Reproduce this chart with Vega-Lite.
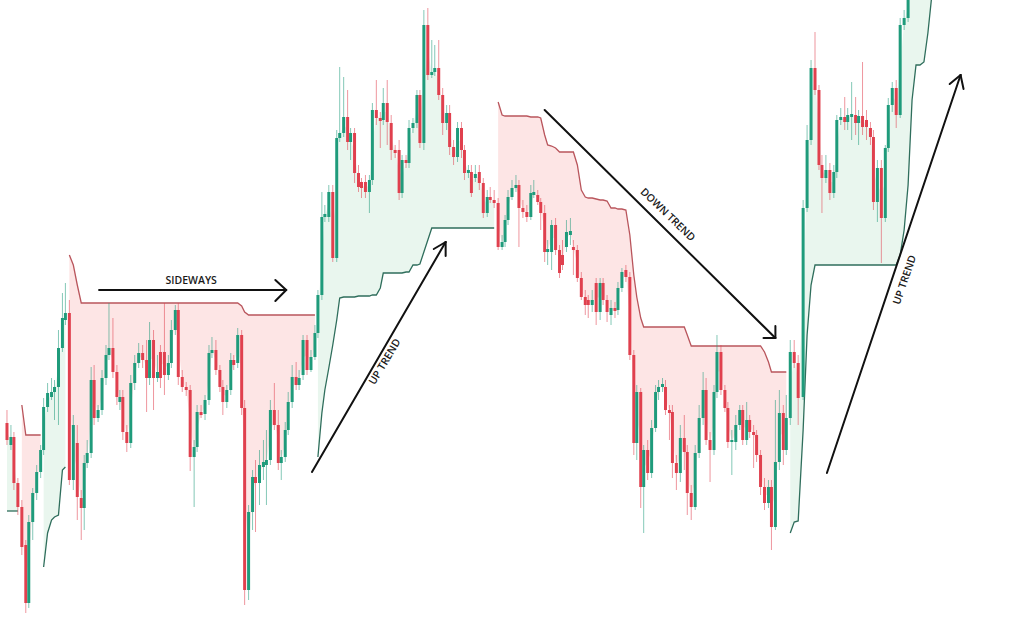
{
  "$schema": "https://vega.github.io/schema/vega-lite/v6.json",
  "width": 1024,
  "height": 621,
  "padding": 0,
  "autosize": {"type": "fit", "contains": "padding"},
  "background": "white",
  "config": {"view": {"stroke": null}},
  "datasets": {
    "candles": [
      {"t":2,"o":423,"h":410,"l":445,"c":440,"st":511,"dir":"up","seg":0},
      {"t":6,"o":445,"h":425,"l":450,"c":437,"st":511,"dir":"up","seg":0},
      {"t":9,"o":437,"h":432,"l":490,"c":483,"st":511,"dir":"up","seg":0},
      {"t":13,"o":483,"h":478,"l":515,"c":507,"st":511,"dir":"up","seg":0},
      {"t":17,"o":507,"h":500,"l":555,"c":547,"st":405,"dir":"down","seg":1},
      {"t":21,"o":545,"h":540,"l":613,"c":603,"st":435,"dir":"down","seg":1},
      {"t":24,"o":603,"h":515,"l":608,"c":522,"st":435,"dir":"down","seg":1},
      {"t":28,"o":522,"h":488,"l":540,"c":493,"st":435,"dir":"down","seg":1},
      {"t":32,"o":493,"h":465,"l":500,"c":472,"st":435,"dir":"down","seg":1},
      {"t":36,"o":472,"h":445,"l":478,"c":450,"st":435,"dir":"down","seg":1},
      {"t":39,"o":450,"h":398,"l":455,"c":407,"st":567,"dir":"up","seg":2},
      {"t":43,"o":407,"h":383,"l":412,"c":393,"st":533,"dir":"up","seg":2},
      {"t":47,"o":397,"h":378,"l":400,"c":392,"st":520,"dir":"up","seg":2},
      {"t":50,"o":392,"h":380,"l":420,"c":387,"st":517,"dir":"up","seg":2},
      {"t":54,"o":387,"h":330,"l":425,"c":348,"st":515,"dir":"up","seg":2},
      {"t":58,"o":348,"h":293,"l":352,"c":318,"st":470,"dir":"up","seg":2},
      {"t":61,"o":320,"h":283,"l":325,"c":313,"st":467,"dir":"up","seg":2},
      {"t":65,"o":313,"h":300,"l":485,"c":480,"st":255,"dir":"down","seg":3},
      {"t":69,"o":480,"h":415,"l":490,"c":425,"st":265,"dir":"down","seg":3},
      {"t":73,"o":443,"h":425,"l":520,"c":497,"st":285,"dir":"down","seg":3},
      {"t":77,"o":498,"h":490,"l":540,"c":508,"st":303,"dir":"down","seg":3},
      {"t":80,"o":508,"h":455,"l":530,"c":463,"st":303,"dir":"down","seg":3},
      {"t":83,"o":463,"h":440,"l":468,"c":453,"st":303,"dir":"down","seg":3},
      {"t":87,"o":453,"h":367,"l":458,"c":380,"st":303,"dir":"down","seg":3},
      {"t":90,"o":380,"h":365,"l":425,"c":418,"st":303,"dir":"down","seg":3},
      {"t":94,"o":418,"h":405,"l":422,"c":410,"st":303,"dir":"down","seg":3},
      {"t":98,"o":410,"h":370,"l":415,"c":378,"st":303,"dir":"down","seg":3},
      {"t":102,"o":378,"h":345,"l":385,"c":355,"st":303,"dir":"down","seg":3},
      {"t":105,"o":355,"h":303,"l":360,"c":348,"st":303,"dir":"down","seg":3},
      {"t":109,"o":348,"h":318,"l":378,"c":372,"st":303,"dir":"down","seg":3},
      {"t":113,"o":372,"h":365,"l":405,"c":397,"st":303,"dir":"down","seg":3},
      {"t":116,"o":402,"h":390,"l":410,"c":397,"st":303,"dir":"down","seg":3},
      {"t":119,"o":397,"h":390,"l":440,"c":432,"st":303,"dir":"down","seg":3},
      {"t":123,"o":432,"h":425,"l":452,"c":443,"st":303,"dir":"down","seg":3},
      {"t":127,"o":443,"h":375,"l":448,"c":383,"st":303,"dir":"down","seg":3},
      {"t":131,"o":383,"h":355,"l":390,"c":363,"st":303,"dir":"down","seg":3},
      {"t":135,"o":363,"h":343,"l":368,"c":353,"st":303,"dir":"down","seg":3},
      {"t":139,"o":353,"h":345,"l":368,"c":360,"st":303,"dir":"down","seg":3},
      {"t":143,"o":360,"h":340,"l":412,"c":378,"st":303,"dir":"down","seg":3},
      {"t":146,"o":378,"h":322,"l":385,"c":340,"st":303,"dir":"down","seg":3},
      {"t":150,"o":340,"h":330,"l":410,"c":378,"st":303,"dir":"down","seg":3},
      {"t":154,"o":378,"h":355,"l":382,"c":372,"st":303,"dir":"down","seg":3},
      {"t":157,"o":352,"h":345,"l":388,"c":378,"st":303,"dir":"down","seg":3},
      {"t":161,"o":352,"h":303,"l":395,"c":375,"st":303,"dir":"down","seg":3},
      {"t":165,"o":375,"h":355,"l":380,"c":363,"st":303,"dir":"down","seg":3},
      {"t":168,"o":363,"h":320,"l":368,"c":330,"st":303,"dir":"down","seg":3},
      {"t":172,"o":330,"h":305,"l":335,"c":310,"st":303,"dir":"down","seg":3},
      {"t":175,"o":310,"h":303,"l":385,"c":377,"st":303,"dir":"down","seg":3},
      {"t":179,"o":377,"h":370,"l":392,"c":387,"st":303,"dir":"down","seg":3},
      {"t":183,"o":387,"h":382,"l":396,"c":390,"st":303,"dir":"down","seg":3},
      {"t":187,"o":390,"h":385,"l":471,"c":457,"st":303,"dir":"down","seg":3},
      {"t":191,"o":457,"h":440,"l":507,"c":447,"st":303,"dir":"down","seg":3},
      {"t":194,"o":447,"h":405,"l":452,"c":412,"st":303,"dir":"down","seg":3},
      {"t":198,"o":412,"h":405,"l":418,"c":415,"st":303,"dir":"down","seg":3},
      {"t":202,"o":414,"h":395,"l":420,"c":400,"st":303,"dir":"down","seg":3},
      {"t":206,"o":400,"h":345,"l":405,"c":353,"st":303,"dir":"down","seg":3},
      {"t":209,"o":353,"h":337,"l":358,"c":350,"st":303,"dir":"down","seg":3},
      {"t":213,"o":350,"h":340,"l":375,"c":370,"st":303,"dir":"down","seg":3},
      {"t":217,"o":370,"h":365,"l":392,"c":387,"st":303,"dir":"down","seg":3},
      {"t":220,"o":387,"h":380,"l":415,"c":402,"st":303,"dir":"down","seg":3},
      {"t":224,"o":402,"h":385,"l":408,"c":390,"st":303,"dir":"down","seg":3},
      {"t":228,"o":390,"h":353,"l":395,"c":360,"st":303,"dir":"down","seg":3},
      {"t":231,"o":360,"h":355,"l":370,"c":365,"st":303,"dir":"down","seg":3},
      {"t":235,"o":363,"h":328,"l":368,"c":335,"st":303,"dir":"down","seg":3},
      {"t":239,"o":335,"h":330,"l":415,"c":408,"st":306,"dir":"down","seg":3},
      {"t":242,"o":408,"h":400,"l":605,"c":590,"st":312,"dir":"down","seg":3},
      {"t":246,"o":590,"h":505,"l":600,"c":512,"st":315,"dir":"down","seg":3},
      {"t":250,"o":512,"h":470,"l":530,"c":477,"st":315,"dir":"down","seg":3},
      {"t":253,"o":477,"h":460,"l":532,"c":483,"st":315,"dir":"down","seg":3},
      {"t":257,"o":483,"h":450,"l":505,"c":465,"st":315,"dir":"down","seg":3},
      {"t":261,"o":467,"h":440,"l":480,"c":462,"st":315,"dir":"down","seg":3},
      {"t":264,"o":465,"h":430,"l":505,"c":460,"st":315,"dir":"down","seg":3},
      {"t":268,"o":460,"h":400,"l":465,"c":410,"st":315,"dir":"down","seg":3},
      {"t":272,"o":410,"h":383,"l":430,"c":425,"st":315,"dir":"down","seg":3},
      {"t":276,"o":425,"h":410,"l":470,"c":463,"st":315,"dir":"down","seg":3},
      {"t":279,"o":463,"h":450,"l":480,"c":457,"st":315,"dir":"down","seg":3},
      {"t":283,"o":457,"h":422,"l":462,"c":430,"st":315,"dir":"down","seg":3},
      {"t":286,"o":430,"h":392,"l":435,"c":402,"st":315,"dir":"down","seg":3},
      {"t":290,"o":402,"h":365,"l":408,"c":377,"st":315,"dir":"down","seg":3},
      {"t":294,"o":377,"h":362,"l":390,"c":385,"st":315,"dir":"down","seg":3},
      {"t":297,"o":385,"h":370,"l":390,"c":378,"st":315,"dir":"down","seg":3},
      {"t":301,"o":375,"h":335,"l":380,"c":340,"st":315,"dir":"down","seg":3},
      {"t":305,"o":340,"h":335,"l":375,"c":370,"st":315,"dir":"down","seg":3},
      {"t":309,"o":370,"h":350,"l":372,"c":357,"st":315,"dir":"down","seg":3},
      {"t":313,"o":357,"h":325,"l":360,"c":333,"st":315,"dir":"down","seg":3},
      {"t":316,"o":333,"h":290,"l":338,"c":295,"st":457,"dir":"up","seg":4},
      {"t":320,"o":295,"h":192,"l":300,"c":217,"st":413,"dir":"up","seg":4},
      {"t":323,"o":217,"h":205,"l":222,"c":214,"st":390,"dir":"up","seg":4},
      {"t":327,"o":217,"h":185,"l":222,"c":192,"st":368,"dir":"up","seg":4},
      {"t":331,"o":192,"h":185,"l":262,"c":258,"st":345,"dir":"up","seg":4},
      {"t":335,"o":258,"h":130,"l":262,"c":138,"st":320,"dir":"up","seg":4},
      {"t":338,"o":138,"h":67,"l":142,"c":133,"st":298,"dir":"up","seg":4},
      {"t":342,"o":133,"h":77,"l":137,"c":117,"st":297,"dir":"up","seg":4},
      {"t":346,"o":117,"h":90,"l":150,"c":142,"st":297,"dir":"up","seg":4},
      {"t":349,"o":142,"h":128,"l":160,"c":133,"st":297,"dir":"up","seg":4},
      {"t":353,"o":133,"h":128,"l":183,"c":173,"st":297,"dir":"up","seg":4},
      {"t":357,"o":173,"h":165,"l":192,"c":187,"st":296,"dir":"up","seg":4},
      {"t":360,"o":182,"h":178,"l":198,"c":188,"st":296,"dir":"up","seg":4},
      {"t":364,"o":182,"h":175,"l":198,"c":192,"st":296,"dir":"up","seg":4},
      {"t":368,"o":192,"h":175,"l":213,"c":180,"st":296,"dir":"up","seg":4},
      {"t":371,"o":180,"h":103,"l":185,"c":110,"st":295,"dir":"up","seg":4},
      {"t":375,"o":110,"h":80,"l":125,"c":118,"st":295,"dir":"up","seg":4},
      {"t":379,"o":118,"h":112,"l":148,"c":121,"st":288,"dir":"up","seg":4},
      {"t":382,"o":120,"h":88,"l":125,"c":103,"st":273,"dir":"up","seg":4},
      {"t":386,"o":103,"h":80,"l":145,"c":122,"st":273,"dir":"up","seg":4},
      {"t":390,"o":123,"h":115,"l":160,"c":150,"st":273,"dir":"up","seg":4},
      {"t":394,"o":150,"h":145,"l":158,"c":153,"st":273,"dir":"up","seg":4},
      {"t":398,"o":150,"h":140,"l":200,"c":193,"st":273,"dir":"up","seg":4},
      {"t":401,"o":193,"h":155,"l":198,"c":160,"st":273,"dir":"up","seg":4},
      {"t":405,"o":160,"h":155,"l":168,"c":163,"st":272,"dir":"up","seg":4},
      {"t":408,"o":163,"h":120,"l":168,"c":128,"st":272,"dir":"up","seg":4},
      {"t":412,"o":128,"h":118,"l":133,"c":123,"st":265,"dir":"up","seg":4},
      {"t":416,"o":123,"h":90,"l":128,"c":95,"st":265,"dir":"up","seg":4},
      {"t":419,"o":95,"h":90,"l":148,"c":143,"st":264,"dir":"up","seg":4},
      {"t":423,"o":143,"h":10,"l":150,"c":25,"st":252,"dir":"up","seg":4},
      {"t":427,"o":25,"h":8,"l":80,"c":75,"st":240,"dir":"up","seg":4},
      {"t":431,"o":75,"h":40,"l":78,"c":72,"st":228,"dir":"up","seg":4},
      {"t":434,"o":72,"h":45,"l":76,"c":68,"st":228,"dir":"up","seg":4},
      {"t":438,"o":68,"h":40,"l":100,"c":95,"st":228,"dir":"up","seg":4},
      {"t":442,"o":95,"h":88,"l":135,"c":123,"st":228,"dir":"up","seg":4},
      {"t":446,"o":123,"h":105,"l":130,"c":113,"st":228,"dir":"up","seg":4},
      {"t":449,"o":113,"h":105,"l":155,"c":147,"st":228,"dir":"up","seg":4},
      {"t":453,"o":147,"h":140,"l":165,"c":157,"st":228,"dir":"up","seg":4},
      {"t":457,"o":157,"h":122,"l":162,"c":128,"st":228,"dir":"up","seg":4},
      {"t":461,"o":128,"h":122,"l":158,"c":150,"st":228,"dir":"up","seg":4},
      {"t":464,"o":150,"h":145,"l":180,"c":173,"st":228,"dir":"up","seg":4},
      {"t":468,"o":173,"h":165,"l":178,"c":170,"st":228,"dir":"up","seg":4},
      {"t":471,"o":172,"h":165,"l":197,"c":193,"st":228,"dir":"up","seg":4},
      {"t":475,"o":178,"h":165,"l":182,"c":174,"st":228,"dir":"up","seg":4},
      {"t":479,"o":172,"h":165,"l":190,"c":183,"st":228,"dir":"up","seg":4},
      {"t":483,"o":183,"h":178,"l":218,"c":213,"st":228,"dir":"up","seg":4},
      {"t":487,"o":213,"h":190,"l":217,"c":197,"st":228,"dir":"up","seg":4},
      {"t":490,"o":197,"h":187,"l":203,"c":200,"st":228,"dir":"up","seg":4},
      {"t":494,"o":200,"h":190,"l":208,"c":203,"st":228,"dir":"up","seg":4},
      {"t":498,"o":203,"h":198,"l":250,"c":247,"st":102,"dir":"down","seg":5},
      {"t":502,"o":247,"h":235,"l":250,"c":242,"st":115,"dir":"down","seg":5},
      {"t":505,"o":242,"h":215,"l":247,"c":220,"st":116,"dir":"down","seg":5},
      {"t":508,"o":220,"h":190,"l":225,"c":197,"st":116,"dir":"down","seg":5},
      {"t":512,"o":197,"h":180,"l":200,"c":188,"st":116,"dir":"down","seg":5},
      {"t":516,"o":188,"h":175,"l":192,"c":185,"st":116,"dir":"down","seg":5},
      {"t":519,"o":185,"h":180,"l":247,"c":208,"st":116,"dir":"down","seg":5},
      {"t":523,"o":208,"h":200,"l":218,"c":212,"st":116,"dir":"down","seg":5},
      {"t":527,"o":212,"h":205,"l":222,"c":217,"st":116,"dir":"down","seg":5},
      {"t":531,"o":217,"h":185,"l":220,"c":193,"st":117,"dir":"down","seg":5},
      {"t":534,"o":195,"h":180,"l":198,"c":192,"st":117,"dir":"down","seg":5},
      {"t":538,"o":195,"h":190,"l":205,"c":202,"st":117,"dir":"down","seg":5},
      {"t":541,"o":202,"h":198,"l":230,"c":213,"st":118,"dir":"down","seg":5},
      {"t":545,"o":213,"h":205,"l":262,"c":252,"st":135,"dir":"down","seg":5},
      {"t":548,"o":252,"h":240,"l":265,"c":249,"st":145,"dir":"down","seg":5},
      {"t":552,"o":252,"h":220,"l":270,"c":225,"st":146,"dir":"down","seg":5},
      {"t":556,"o":225,"h":218,"l":255,"c":250,"st":148,"dir":"down","seg":5},
      {"t":560,"o":250,"h":245,"l":278,"c":273,"st":152,"dir":"down","seg":5},
      {"t":563,"o":255,"h":240,"l":270,"c":265,"st":152,"dir":"down","seg":5},
      {"t":567,"o":247,"h":220,"l":252,"c":232,"st":152,"dir":"down","seg":5},
      {"t":571,"o":235,"h":218,"l":245,"c":231,"st":152,"dir":"down","seg":5},
      {"t":574,"o":247,"h":240,"l":275,"c":250,"st":152,"dir":"down","seg":5},
      {"t":578,"o":250,"h":245,"l":282,"c":278,"st":165,"dir":"down","seg":5},
      {"t":582,"o":278,"h":272,"l":300,"c":297,"st":190,"dir":"down","seg":5},
      {"t":586,"o":297,"h":290,"l":315,"c":305,"st":197,"dir":"down","seg":5},
      {"t":589,"o":300,"h":295,"l":318,"c":305,"st":198,"dir":"down","seg":5},
      {"t":593,"o":305,"h":290,"l":312,"c":300,"st":198,"dir":"down","seg":5},
      {"t":597,"o":283,"h":278,"l":325,"c":312,"st":199,"dir":"down","seg":5},
      {"t":601,"o":312,"h":278,"l":320,"c":283,"st":200,"dir":"down","seg":5},
      {"t":604,"o":283,"h":278,"l":305,"c":300,"st":200,"dir":"down","seg":5},
      {"t":608,"o":300,"h":295,"l":322,"c":312,"st":201,"dir":"down","seg":5},
      {"t":612,"o":315,"h":300,"l":325,"c":308,"st":208,"dir":"down","seg":5},
      {"t":616,"o":308,"h":302,"l":318,"c":311,"st":208,"dir":"down","seg":5},
      {"t":619,"o":310,"h":282,"l":315,"c":288,"st":209,"dir":"down","seg":5},
      {"t":623,"o":288,"h":268,"l":292,"c":272,"st":209,"dir":"down","seg":5},
      {"t":627,"o":270,"h":265,"l":282,"c":277,"st":210,"dir":"down","seg":5},
      {"t":631,"o":277,"h":272,"l":360,"c":355,"st":235,"dir":"down","seg":5},
      {"t":635,"o":355,"h":350,"l":455,"c":443,"st":275,"dir":"down","seg":5},
      {"t":638,"o":443,"h":385,"l":460,"c":392,"st":297,"dir":"down","seg":5},
      {"t":642,"o":392,"h":388,"l":508,"c":487,"st":318,"dir":"down","seg":5},
      {"t":645,"o":487,"h":445,"l":533,"c":450,"st":327,"dir":"down","seg":5},
      {"t":649,"o":450,"h":440,"l":480,"c":473,"st":327,"dir":"down","seg":5},
      {"t":653,"o":473,"h":420,"l":478,"c":428,"st":327,"dir":"down","seg":5},
      {"t":657,"o":428,"h":385,"l":432,"c":392,"st":327,"dir":"down","seg":5},
      {"t":660,"o":392,"h":380,"l":400,"c":387,"st":327,"dir":"down","seg":5},
      {"t":664,"o":387,"h":378,"l":392,"c":384,"st":327,"dir":"down","seg":5},
      {"t":667,"o":387,"h":380,"l":415,"c":410,"st":327,"dir":"down","seg":5},
      {"t":671,"o":410,"h":405,"l":440,"c":413,"st":327,"dir":"down","seg":5},
      {"t":674,"o":412,"h":405,"l":478,"c":463,"st":327,"dir":"down","seg":5},
      {"t":678,"o":463,"h":455,"l":490,"c":473,"st":327,"dir":"down","seg":5},
      {"t":682,"o":473,"h":425,"l":482,"c":438,"st":327,"dir":"down","seg":5},
      {"t":686,"o":438,"h":415,"l":470,"c":452,"st":327,"dir":"down","seg":5},
      {"t":689,"o":452,"h":445,"l":515,"c":493,"st":335,"dir":"down","seg":5},
      {"t":693,"o":493,"h":485,"l":520,"c":507,"st":346,"dir":"down","seg":5},
      {"t":697,"o":507,"h":445,"l":510,"c":453,"st":346,"dir":"down","seg":5},
      {"t":701,"o":453,"h":405,"l":458,"c":418,"st":346,"dir":"down","seg":5},
      {"t":705,"o":418,"h":372,"l":425,"c":390,"st":346,"dir":"down","seg":5},
      {"t":708,"o":390,"h":378,"l":445,"c":440,"st":346,"dir":"down","seg":5},
      {"t":712,"o":440,"h":432,"l":482,"c":450,"st":346,"dir":"down","seg":5},
      {"t":716,"o":450,"h":385,"l":455,"c":392,"st":346,"dir":"down","seg":5},
      {"t":719,"o":392,"h":335,"l":398,"c":352,"st":346,"dir":"down","seg":5},
      {"t":723,"o":352,"h":345,"l":395,"c":390,"st":346,"dir":"down","seg":5},
      {"t":727,"o":390,"h":385,"l":412,"c":408,"st":346,"dir":"down","seg":5},
      {"t":730,"o":408,"h":402,"l":448,"c":442,"st":346,"dir":"down","seg":5},
      {"t":734,"o":442,"h":430,"l":475,"c":440,"st":346,"dir":"down","seg":5},
      {"t":738,"o":442,"h":415,"l":450,"c":425,"st":346,"dir":"down","seg":5},
      {"t":742,"o":425,"h":405,"l":430,"c":410,"st":346,"dir":"down","seg":5},
      {"t":745,"o":410,"h":405,"l":445,"c":440,"st":346,"dir":"down","seg":5},
      {"t":749,"o":440,"h":402,"l":445,"c":420,"st":346,"dir":"down","seg":5},
      {"t":752,"o":420,"h":415,"l":438,"c":432,"st":346,"dir":"down","seg":5},
      {"t":756,"o":432,"h":425,"l":468,"c":435,"st":346,"dir":"down","seg":5},
      {"t":759,"o":435,"h":430,"l":462,"c":455,"st":346,"dir":"down","seg":5},
      {"t":763,"o":455,"h":450,"l":495,"c":487,"st":346,"dir":"down","seg":5},
      {"t":767,"o":487,"h":478,"l":510,"c":503,"st":352,"dir":"down","seg":5},
      {"t":771,"o":503,"h":480,"l":508,"c":487,"st":362,"dir":"down","seg":5},
      {"t":774,"o":487,"h":480,"l":550,"c":527,"st":372,"dir":"down","seg":5},
      {"t":778,"o":527,"h":400,"l":530,"c":462,"st":372,"dir":"down","seg":5},
      {"t":782,"o":462,"h":390,"l":470,"c":413,"st":372,"dir":"down","seg":5},
      {"t":786,"o":413,"h":405,"l":465,"c":450,"st":372,"dir":"down","seg":5},
      {"t":789,"o":450,"h":395,"l":455,"c":418,"st":372,"dir":"down","seg":5},
      {"t":793,"o":418,"h":340,"l":425,"c":352,"st":533,"dir":"up","seg":6},
      {"t":797,"o":352,"h":340,"l":368,"c":363,"st":522,"dir":"up","seg":6},
      {"t":801,"o":363,"h":355,"l":425,"c":398,"st":521,"dir":"up","seg":6},
      {"t":806,"o":397,"h":200,"l":400,"c":208,"st":430,"dir":"up","seg":6},
      {"t":810,"o":208,"h":125,"l":212,"c":140,"st":335,"dir":"up","seg":6},
      {"t":814,"o":140,"h":60,"l":145,"c":68,"st":285,"dir":"up","seg":6},
      {"t":818,"o":68,"h":32,"l":95,"c":90,"st":265,"dir":"up","seg":6},
      {"t":822,"o":90,"h":85,"l":170,"c":165,"st":265,"dir":"up","seg":6},
      {"t":825,"o":165,"h":155,"l":213,"c":178,"st":265,"dir":"up","seg":6},
      {"t":829,"o":178,"h":155,"l":183,"c":170,"st":265,"dir":"up","seg":6},
      {"t":833,"o":170,"h":163,"l":200,"c":193,"st":265,"dir":"up","seg":6},
      {"t":837,"o":193,"h":165,"l":198,"c":172,"st":265,"dir":"up","seg":6},
      {"t":840,"o":172,"h":115,"l":178,"c":120,"st":265,"dir":"up","seg":6},
      {"t":844,"o":120,"h":108,"l":125,"c":117,"st":265,"dir":"up","seg":6},
      {"t":848,"o":117,"h":97,"l":130,"c":122,"st":265,"dir":"up","seg":6},
      {"t":851,"o":122,"h":108,"l":130,"c":115,"st":265,"dir":"up","seg":6},
      {"t":855,"o":117,"h":82,"l":140,"c":114,"st":265,"dir":"up","seg":6},
      {"t":859,"o":115,"h":97,"l":135,"c":123,"st":265,"dir":"up","seg":6},
      {"t":862,"o":123,"h":110,"l":145,"c":116,"st":265,"dir":"up","seg":6},
      {"t":866,"o":116,"h":62,"l":135,"c":127,"st":265,"dir":"up","seg":6},
      {"t":870,"o":120,"h":110,"l":140,"c":127,"st":265,"dir":"up","seg":6},
      {"t":874,"o":128,"h":122,"l":145,"c":137,"st":265,"dir":"up","seg":6},
      {"t":877,"o":137,"h":130,"l":210,"c":202,"st":265,"dir":"up","seg":6},
      {"t":881,"o":202,"h":160,"l":222,"c":168,"st":265,"dir":"up","seg":6},
      {"t":885,"o":168,"h":160,"l":263,"c":218,"st":265,"dir":"up","seg":6},
      {"t":889,"o":218,"h":145,"l":222,"c":148,"st":265,"dir":"up","seg":6},
      {"t":892,"o":148,"h":98,"l":152,"c":105,"st":265,"dir":"up","seg":6},
      {"t":896,"o":105,"h":82,"l":112,"c":88,"st":265,"dir":"up","seg":6},
      {"t":900,"o":88,"h":80,"l":128,"c":115,"st":265,"dir":"up","seg":6},
      {"t":904,"o":115,"h":18,"l":118,"c":25,"st":255,"dir":"up","seg":6},
      {"t":908,"o":25,"h":10,"l":30,"c":18,"st":230,"dir":"up","seg":6},
      {"t":912,"o":18,"h":-15,"l":22,"c":-5,"st":185,"dir":"up","seg":6},
      {"t":916,"o":-5,"h":-30,"l":0,"c":-25,"st":100,"dir":"up","seg":6},
      {"t":920,"o":-25,"h":-45,"l":-20,"c":-40,"st":65,"dir":"up","seg":6},
      {"t":924,"o":-40,"h":-60,"l":-35,"c":-55,"st":65,"dir":"up","seg":6},
      {"t":928,"o":-55,"h":-75,"l":-50,"c":-70,"st":62,"dir":"up","seg":6},
      {"t":932,"o":-70,"h":-90,"l":-65,"c":-85,"st":33,"dir":"up","seg":6},
      {"t":936,"o":-85,"h":-100,"l":-80,"c":-95,"st":-5,"dir":"up","seg":6}
    ],
    "arrows": [
      {"x":95,"y":290,"x2":284,"y2":290},
      {"x":273,"y":280,"x2":284,"y2":290},
      {"x":273,"y":301,"x2":284,"y2":290},
      {"x":310,"y":472,"x2":445,"y2":242},
      {"x":433,"y":249,"x2":445,"y2":242},
      {"x":445,"y":256,"x2":445,"y2":242},
      {"x":545,"y":110,"x2":778,"y2":338},
      {"x":766,"y":338,"x2":778,"y2":338},
      {"x":778,"y":326,"x2":778,"y2":338},
      {"x":830,"y":473,"x2":965,"y2":75},
      {"x":954,"y":84,"x2":965,"y2":75},
      {"x":968,"y":89,"x2":965,"y2":75}
    ],
    "labels": [
      {"x":188,"y":281,"text":"SIDEWAYS","angle":0},
      {"x":384,"y":362,"text":"UP TREND","angle":301},
      {"x":669,"y":215,"text":"DOWN TREND","angle":44},
      {"x":909,"y":280,"text":"UP TREND","angle":289}
    ]
  },
  "layer": [
    {
      "data": {"name": "candles"},
      "transform": [
        {"fold": ["o", "c"]},
        {"aggregate": [{"op": "mean", "field": "value", "as": "mid"}], "groupby": ["t", "st", "dir", "seg"]}
      ],
      "mark": {"type": "area", "clip": true},
      "encoding": {
        "x": {"field": "t", "type": "quantitative", "axis": null, "scale": {"domain": [0, 1024], "nice": false, "zero": false}},
        "y": {"field": "st", "type": "quantitative", "axis": null, "scale": {"domain": [0, 621], "reverse": true, "nice": false, "zero": false}},
        "y2": {"field": "mid"},
        "fill": {"field": "dir", "type": "nominal", "legend": null, "scale": {"domain": ["up", "down"], "range": ["#e9f6ee", "#fde5e5"]}},
        "detail": {"field": "seg"}
      }
    },
    {
      "data": {"name": "candles"},
      "mark": {"type": "line", "clip": true, "strokeWidth": 1.3},
      "encoding": {
        "x": {"field": "t", "type": "quantitative", "axis": null},
        "y": {"field": "st", "type": "quantitative", "axis": null},
        "stroke": {"field": "dir", "type": "nominal", "legend": null, "scale": {"domain": ["up", "down"], "range": ["#2f6e5c", "#b9555c"]}},
        "detail": {"field": "seg"}
      }
    },
    {
      "data": {"name": "candles"},
      "mark": {"type": "rule", "clip": true, "strokeWidth": 1, "opacity": 0.55},
      "encoding": {
        "x": {"field": "t", "type": "quantitative", "axis": null},
        "y": {"field": "h", "type": "quantitative", "axis": null},
        "y2": {"field": "l"},
        "color": {"condition": {"test": "datum.c < datum.o", "value": "#1f9b7b"}, "value": "#e0404e"}
      }
    },
    {
      "data": {"name": "candles"},
      "mark": {"type": "bar", "clip": true, "size": 3},
      "encoding": {
        "x": {"field": "t", "type": "quantitative", "axis": null},
        "y": {"field": "o", "type": "quantitative", "axis": null},
        "y2": {"field": "c"},
        "color": {"condition": {"test": "datum.c < datum.o", "value": "#1f9b7b"}, "value": "#e0404e"}
      }
    },
    {
      "data": {"name": "arrows"},
      "mark": {"type": "rule", "clip": true, "strokeWidth": 2, "color": "#111111", "strokeCap": "round"},
      "encoding": {
        "x": {"field": "x", "type": "quantitative", "axis": null},
        "y": {"field": "y", "type": "quantitative", "axis": null},
        "x2": {"field": "x2"},
        "y2": {"field": "y2"}
      }
    },
    {
      "data": {"name": "labels"},
      "mark": {"type": "text", "font": "Open Sans", "fontWeight": 600, "fontSize": 10.5, "color": "#1a1a1a", "align": "center", "baseline": "middle"},
      "encoding": {
        "x": {"field": "x", "type": "quantitative", "axis": null},
        "y": {"field": "y", "type": "quantitative", "axis": null},
        "text": {"field": "text"},
        "angle": {"field": "angle", "type": "quantitative", "scale": null}
      }
    }
  ]
}
